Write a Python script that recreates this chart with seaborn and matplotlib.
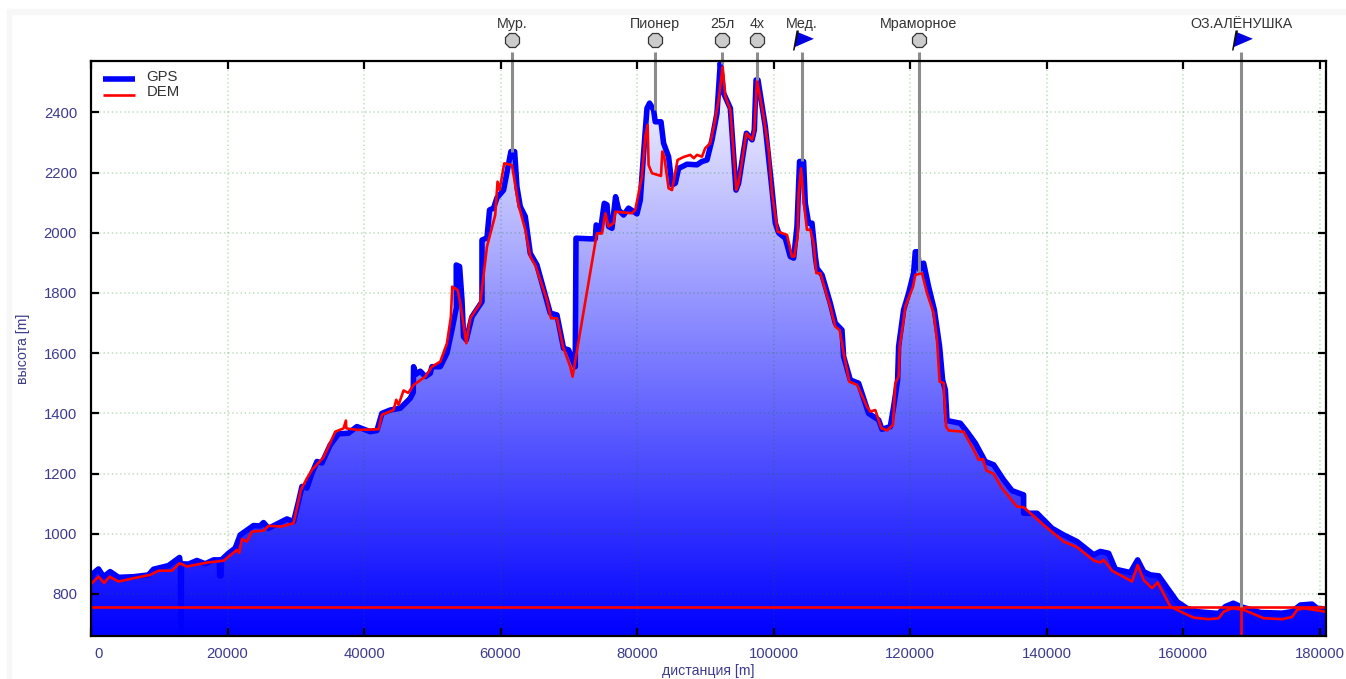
import seaborn as sns
import pandas as pd
import matplotlib.pyplot as plt
import matplotlib
import numpy as np
from matplotlib.colors import LinearSegmentedColormap
from matplotlib.patches import Rectangle
from matplotlib.transforms import ScaledTranslation

gps_x = [0, 370, 1100, 1830, 2810, 4030, 6230, 8420, 9160, 11350, 12970, 13100, 13170, 13250, 14280, 15510, 16730,
         17950, 18800, 18850, 19050, 19100, 20140, 21120, 21860, 23800, 24780, 25270, 26000, 28700, 29670, 30400,
         30900, 31630, 32360, 33100, 33830, 35040, 36260, 37720, 38950, 40900, 41880, 42610, 43830, 45300, 46760,
         47200, 47250, 47600, 48230, 49000, 49690, 49940, 51160, 52140, 52870, 53500, 53500, 53990, 54340, 54570,
         54970, 55800, 57270, 57270, 58000, 58380, 58970, 59460, 60430, 61170, 61510, 62050, 62390, 62880, 63610,
         64340, 65320, 67270, 68250, 69220, 69950, 70930, 71040, 73140, 73860, 74000, 74600, 75180, 75580, 75820,
         76310, 76840, 77290, 78010, 78740, 79970, 80460, 80940, 81440, 81820, 82410, 82650, 83490, 83870, 84600,
         85100, 85590, 86070, 87300, 88760, 89490, 90230, 90960, 91690, 92180, 92660, 93650, 94480, 94860, 96000,
         96830, 97160, 97420, 97700, 98770, 99760, 100240, 100720, 101700, 102430, 102920, 103410, 103790, 104380,
         104630, 105110, 105610, 106100, 106340, 107080, 108290, 109020, 110000, 110240, 111220, 112440, 113900,
         115370, 115860, 117080, 117570, 118150, 118300, 119030, 119760, 120490, 120740, 121090, 121380, 121960,
         122690, 123530, 124300, 124740, 125140, 125390, 127340, 128320, 129530, 130990, 132220, 133680, 134910,
         136610, 136610, 138570, 140770, 142470, 144430, 146870, 147840, 149060, 150050, 152240, 153310, 154190,
         155170, 156390, 157860, 159090, 160550, 162010, 163470, 165180, 166160, 167330, 168360, 171290, 174470,
         175930, 177150, 178860, 179590, 180810]
gps_y = [845, 869, 883, 857, 874, 855, 857, 863, 882, 894, 921, 900, 660, 900, 899, 911, 900,
         913, 913, 860, 860, 913, 935, 952, 996, 1027, 1026, 1037, 1018, 1049, 1040, 1107,
         1157, 1152, 1201, 1240, 1235, 1295, 1332, 1334, 1356, 1339, 1343, 1400, 1411, 1417, 1450,
         1470, 1555, 1530, 1540, 1522, 1533, 1555, 1555, 1600, 1677, 1750, 1893, 1888, 1777, 1655,
         1644, 1721, 1771, 1976, 1983, 2076, 2082, 2116, 2142, 2231, 2270, 2270, 2153, 2087, 2054,
         1932, 1893, 1733, 1727, 1616, 1611, 1555, 1982, 1980, 1980, 2026, 2004, 2098, 2093, 2021,
         2015, 2120, 2076, 2059, 2082, 2063, 2109, 2264, 2414, 2431, 2408, 2369, 2369, 2298, 2253,
         2159, 2165, 2214, 2228, 2226, 2237, 2242, 2309, 2397, 2565, 2464, 2414, 2142, 2165, 2331,
         2309, 2342, 2508, 2508, 2353, 2142, 2032, 2000, 1982, 1921, 1916, 2021, 2237, 2237,
         2098, 2032, 2032, 1921, 1882, 1860, 1766, 1700, 1677, 1589, 1511, 1500, 1400,
         1378, 1347, 1356, 1422, 1511, 1622, 1744, 1799, 1866, 1937, 1937, 1877, 1899,
         1821, 1744, 1622, 1511, 1478, 1376, 1367, 1339, 1301, 1240, 1229, 1179, 1143,
         1129, 1068, 1068, 1018, 996, 974, 930, 941, 935, 882, 871, 913, 874,
         863, 860, 813, 774, 752, 741, 738, 735, 758, 769, 758, 738, 736,
         741, 763, 766, 752, 750]

dem_x = [0, 370, 1100, 1930, 2710, 4030, 6230, 8670, 9890, 11850, 12970, 14050, 16980, 19410, 21370, 21710, 22100,
         22840, 23570, 25270, 26000, 27960, 29670, 30750, 31630, 32360, 34060, 35780, 36990, 37340, 37400, 38950,
         42120, 42610, 44310, 44710, 45050, 45780, 46470, 47250, 48960, 49940, 51160, 52140, 52720, 52910, 53700,
         54090, 54970, 55550, 57020, 58000, 59210, 59550, 59850, 60530, 61660, 62630, 63610, 64340, 65070, 66780,
         67370, 68250, 69130, 70200, 70540, 74100, 74850, 75330, 75820, 76550, 76800, 79240, 79720, 80700, 81190,
         81530, 81680, 82170, 83490, 83680, 83970, 84600, 85100, 85920, 86800, 87780, 88300, 88760, 89490, 89970,
         90700, 91290, 91930, 92520, 92910, 93650, 94530, 94860, 95990, 96830, 97160, 97550, 98530, 99260, 99760,
         100580, 101950, 102680, 103020, 103500, 103650, 104000, 104380, 104870, 105360, 105850, 106240, 106830,
         108290, 109020, 109660, 110240, 111080, 112200, 113670, 114150, 114880, 115760, 116600, 117470, 117810,
         118300, 118450, 119030, 119280, 120410, 120740, 121720, 122460, 123430, 123920, 124300, 124890, 125240,
         125630, 127820, 129290, 130020, 130660, 131150, 132220, 133440, 135640, 136610, 139540, 142470, 144430,
         146870, 147840, 148330, 149560, 152490, 153310, 154190, 155420, 156240, 158100, 160050, 161510, 163710,
         165180, 165920, 167140, 168840, 171770, 174470, 175930, 176670, 177630, 179100, 180810]
dem_y = [832, 841, 857, 836, 857, 841, 852, 863, 877, 877, 902, 891, 904, 910, 946, 936, 982,
         974, 1007, 1010, 1026, 1024, 1035, 1146, 1184, 1212, 1254, 1339, 1350, 1376, 1350, 1345,
         1347, 1395, 1411, 1445, 1428, 1476, 1468, 1494, 1522, 1555, 1572, 1633, 1721, 1821, 1810,
         1766, 1633, 1716, 1766, 1954, 2059, 2170, 2142, 2231, 2225, 2092, 2010, 1921, 1893, 1777,
         1716, 1716, 1622, 1555, 1522, 1998, 1998, 2065, 2021, 2032, 2070, 2065, 2076, 2187, 2320,
         2359, 2225, 2198, 2189, 2270, 2253, 2148, 2142, 2242, 2252, 2259, 2248, 2259, 2253, 2281,
         2298, 2359, 2442, 2552, 2453, 2408, 2142, 2165, 2331, 2309, 2342, 2508, 2386, 2275, 2131,
         2004, 1993, 1921, 1921, 1987, 2131, 2214, 2109, 2010, 2010, 1965, 1866, 1866,
         1755, 1688, 1677, 1600, 1505, 1495, 1422, 1406, 1411, 1351, 1343, 1362, 1500,
         1522, 1622, 1711, 1755, 1821, 1860, 1866, 1799, 1733, 1644, 1505, 1501, 1356,
         1343, 1339, 1279, 1245, 1248, 1210, 1199, 1151, 1090, 1088, 1029, 974, 955,
         911, 904, 913, 877, 841, 896, 846, 819, 838, 758, 736, 721, 716,
         719, 741, 752, 747, 719, 716, 723, 747, 752, 747, 741]

flat_level = 755
x_ticks = [0, 20000, 40000, 60000, 80000, 100000, 120000, 140000, 160000, 180000]
y_ticks = [800, 1000, 1200, 1400, 1600, 1800, 2000, 2200, 2400]

wp_names = ['Мур.', 'Пионер', '25л', '4х', 'Мед.', 'Мраморное', 'ОЗ.АЛЁНУШКА']
wp_x = [61700, 82650, 92500, 97550, 104090, 121230, 168500]
wp_alt = [2270, 2408, 2560, 2508, 2237, 1870, 755]
wp_flag = [False, False, False, False, True, False, True]

matplotlib.rc('font', size=10.7)
sns.set_style('white')
plt.rcParams['font.family'] = ['Liberation Sans', 'DejaVu Sans']

navy = '#3c3c8c'
flag_verts = [(-4.6, 8.3), (11.4, 1.7), (-8, -6.7)]
pole_verts = [(-9.5, -10), (-8, -10), (-3.5, 10), (-6, 10)]

fig = plt.figure(figsize=(13.46, 6.79), dpi=100)
fig.patches.append(Rectangle((7 / 1346, 0), 4 / 1346, 670 / 679, transform=fig.transFigure, color='#f7f7f7'))
fig.patches.append(Rectangle((7 / 1346, 665 / 679), 1339 / 1346, 5 / 679, transform=fig.transFigure, color='#f7f7f7'))
ax = fig.add_axes([91 / 1346, (679 - 636) / 679, 1235 / 1346, 575 / 679])
ax.patch.set_alpha(0)

df_gps = pd.DataFrame({'x': gps_x, 'y': gps_y})
df_dem = pd.DataFrame({'x': dem_x, 'y': dem_y})

x_lim = (0, 180900)
y_lim = (660, 2571)

# gradient under the gps profile
cmap = LinearSegmentedColormap.from_list('hgt', ['#0000ff', '#ffffff'])
poly = ax.fill_between(gps_x, gps_y, y_lim[0], color='none', lw=0)
img = ax.imshow(np.linspace(1, 0, 256).reshape(-1, 1), cmap=cmap, aspect='auto',
                extent=[x_lim[0], x_lim[1], y_lim[0], y_lim[1]], zorder=1)
img.set_clip_path(poly.get_paths()[0], transform=ax.transData)

sns.lineplot(data=df_gps, x='x', y='y', ax=ax, color='#0000ff', lw=4, sort=False, estimator=None,
             label='GPS', zorder=4)
sns.lineplot(data=df_dem, x='x', y='y', ax=ax, color='#ff0000', lw=1.9, sort=False, estimator=None,
             label='DEM', zorder=5)
ax.axhline(flat_level, color='#ff0000', lw=1.9, zorder=5)

ax.set_xlim(*x_lim)
ax.set_ylim(*y_lim)
ax.set_xticks(x_ticks)
ax.set_yticks(y_ticks)
ax.set_axisbelow(False)
ax.grid(True, color='#008000', alpha=0.22, lw=1.3, linestyle=(0, (0.8, 1.5)))
ax.tick_params(direction='in', length=6, width=1.6, top=True, right=True, bottom=True, left=True,
               colors='black', labelcolor=navy, labelsize=10.7, pad=10)
ax.tick_params(axis='x', pad=8)
for s in ax.spines.values():
    s.set_linewidth(1.6)
    s.set_color('black')
    s.set_zorder(8)

zero = ax.get_xticklabels()[0]
zero.set_transform(zero.get_transform() + ScaledTranslation(8 / 100, 0, fig.dpi_scale_trans))

ax.set_xlabel('дистанция [m]', color=navy, fontsize=10.2, labelpad=2)
ax.set_ylabel('высота [m]', color=navy, fontsize=10.2, labelpad=10)

trans = ax.get_xaxis_transform()
for name, wx, alt, flag in zip(wp_names, wp_x, wp_alt, wp_flag):
    # stem from the profile up to the symbol
    top = 1.0157
    ax.plot([wx, wx], [ax.transAxes.inverted().transform(ax.transData.transform((wx, alt)))[1], top],
            transform=trans, color='#8c8c8c', lw=2.2, clip_on=False, zorder=6, solid_capstyle='butt')
    if flag:
        ax.plot(wx, 1.0365, marker=flag_verts, ms=16.4, mfc='#0000e0', mew=0, transform=trans, clip_on=False, zorder=7)
        ax.plot(wx, 1.0365, marker=pole_verts, ms=14.4, mfc='#111111', mew=0, transform=trans, clip_on=False, zorder=7)
    else:
        ax.plot(wx, 1.0365, marker='8', ms=11.5, mfc='#cccccc', mec='#333333', mew=0.9, transform=trans,
                clip_on=False, zorder=7)
    ax.text(wx, 1.064, name, transform=trans, ha='center', va='center', color='#333333', fontsize=10.3)

ax.plot([wp_x[-1], wp_x[-1]], [flat_level, y_lim[0]], color='#ff0000', lw=1.9, zorder=5)

leg = ax.legend(loc='upper left', frameon=False, fontsize=10.7, handlelength=2.2, labelspacing=0.1,
                handletextpad=0.9, bbox_to_anchor=(0.003, 0.995), borderaxespad=0.2, borderpad=0.2)
for t in leg.get_texts():
    t.set_color('#333333')
# handles sit a little below the text, with square ends
for line in leg.get_lines():
    line.set_ydata(np.asarray(line.get_ydata()) - 2.5)
    line.set_xdata(np.asarray(line.get_xdata()) + 1.5)
    line.set_solid_capstyle('butt')

plt.savefig('out.png', dpi=100)
